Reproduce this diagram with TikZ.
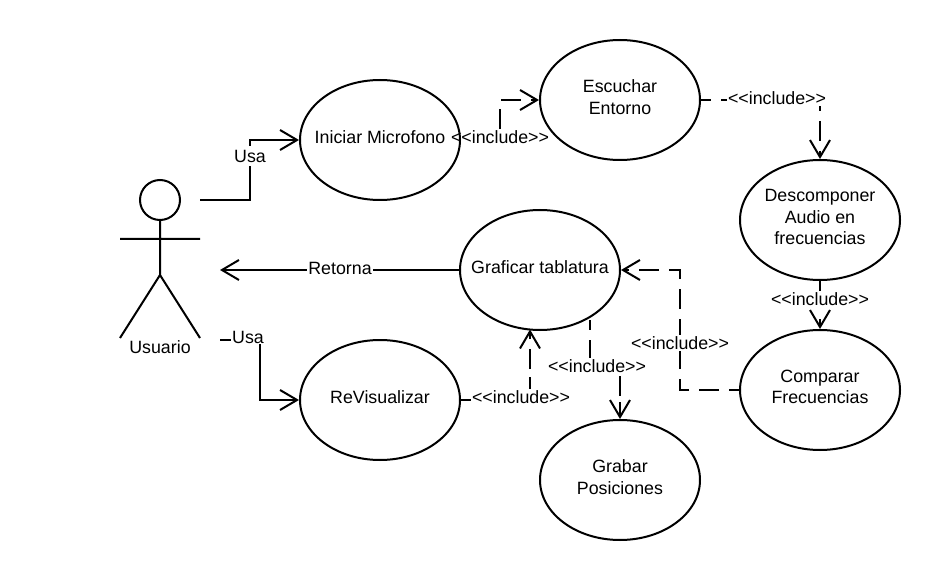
\documentclass[tikz,border=0pt]{standalone}
\usepackage{fontspec}
\setmainfont{Liberation Sans}
\usetikzlibrary{shapes.geometric,arrows.meta,backgrounds}
\tikzset{
  usecase/.style={ellipse,draw=black,fill=white,line width=2pt,minimum width=160pt,minimum height=120pt,inner sep=0pt},
  uctext/.style={align=center,inner sep=0pt,yshift=3pt,font=\fontsize{17.8}{21.5}\selectfont},
  lab/.style={inner sep=1pt,font=\fontsize{17.8}{20}\selectfont},
  solidedge/.style={draw=black,line width=2pt,-{Straight Barb[length=17pt,width=20pt,line width=2pt]}},
  dashedge/.style={solidedge,dash pattern=on 20pt off 10pt,dash phase=10pt},
  limb/.style={draw=black,line width=2pt}
}
\begin{document}
\begin{tikzpicture}[x=1pt,y=-1pt]
\useasboundingbox (0,0) rectangle (940,580);
% use cases
\node[usecase,label={[uctext]center:Iniciar Microfono}] (ini) at (380,140) {};
\node[usecase,label={[uctext]center:Escuchar\\Entorno}] (esc) at (620,100) {};
\node[usecase,label={[uctext]center:Descomponer\\Audio en\\frecuencias}] (des) at (820,220) {};
\node[usecase,label={[uctext]center:Comparar\\Frecuencias}] (com) at (820,390) {};
\node[usecase,label={[uctext]center:Graficar tablatura}] (gra) at (540,270) {};
\node[usecase,label={[uctext]center:ReVisualizar}] (rev) at (380,400) {};
\node[usecase,label={[uctext]center:Grabar\\Posiciones}] (grb) at (620,480) {};
% actor
\node[circle,draw=black,fill=white,line width=2pt,minimum size=40pt,inner sep=0pt] (head) at (160,200) {};
\coordinate (hip) at (160,275);
\coordinate (armL) at (120,239);
\coordinate (armR) at (200,239);
\coordinate (legL) at (120,338);
\coordinate (legR) at (200,338);
\draw[limb] (head.south) -- (hip) (armL) -- (armR) (legL) -- (hip) -- (legR);
\node[lab] (usuario) at (160,347) {Usuario};
% free ends
\coordinate (a1) at (200,200);
\coordinate (a2) at (220,270);
\coordinate (a3) at (220,340);
\coordinate (graout) at (590,320);
\coordinate (grain) at (530,329.5);
% labels
\node[lab,inner ysep=4pt] (l1) at (250,156) {Usa};
\node[lab] (l2) at (248,337) {Usa};
\node[lab] (l3) at (340,268) {Retorna};
\node[lab] (l4) at (500,137) {<{}<include>{}>};
\node[lab] (l5) at (777,98) {<{}<include>{}>};
\node[lab] (l6) at (820,299) {<{}<include>{}>};
\node[lab] (l7) at (680,343) {<{}<include>{}>};
\node[lab] (l8) at (597,366) {<{}<include>{}>};
\node[lab] (l9) at (521,397) {<{}<include>{}>};
\begin{scope}[on background layer]
\draw[solidedge] (a1) -- (250,200) -- (250,140) -- (ini.west);
\draw[solidedge] (a3) -- (260,340) -- (260,400) -- (rev.west);
\draw[solidedge] (gra.west) -- (a2);
\draw[dashedge] (ini.east) -- (500,140) -- (500,100) -- (esc.west);
\draw[dashedge] (esc.east) -- (820,100) -- (des.north);
\draw[dashedge,dash pattern=on 10pt off 28pt on 20pt,dash phase=0pt] (des.south) -- (com.north);
\draw[dashedge] (com.west) -- (680,390) -- (680,270) -- (gra.east);
\draw[dashedge,dash pattern=on 10pt off 10pt on 20pt off 46pt on 20pt off 6pt on 30pt,dash phase=0pt] (graout) -- (590,365) -- (620,365) -- (grb.north);
\draw[dashedge,dash pattern=on 10pt off 60pt on 22pt off 8pt on 20pt off 10pt,dash phase=0pt] (rev.east) -- (530,400) -- (grain);
\foreach \n in {l1,l2,l3,l4,l5,l6,l7,l8,l9}
  \fill[white] (\n.south west) rectangle (\n.north east);
\end{scope}
\end{tikzpicture}
\end{document}
